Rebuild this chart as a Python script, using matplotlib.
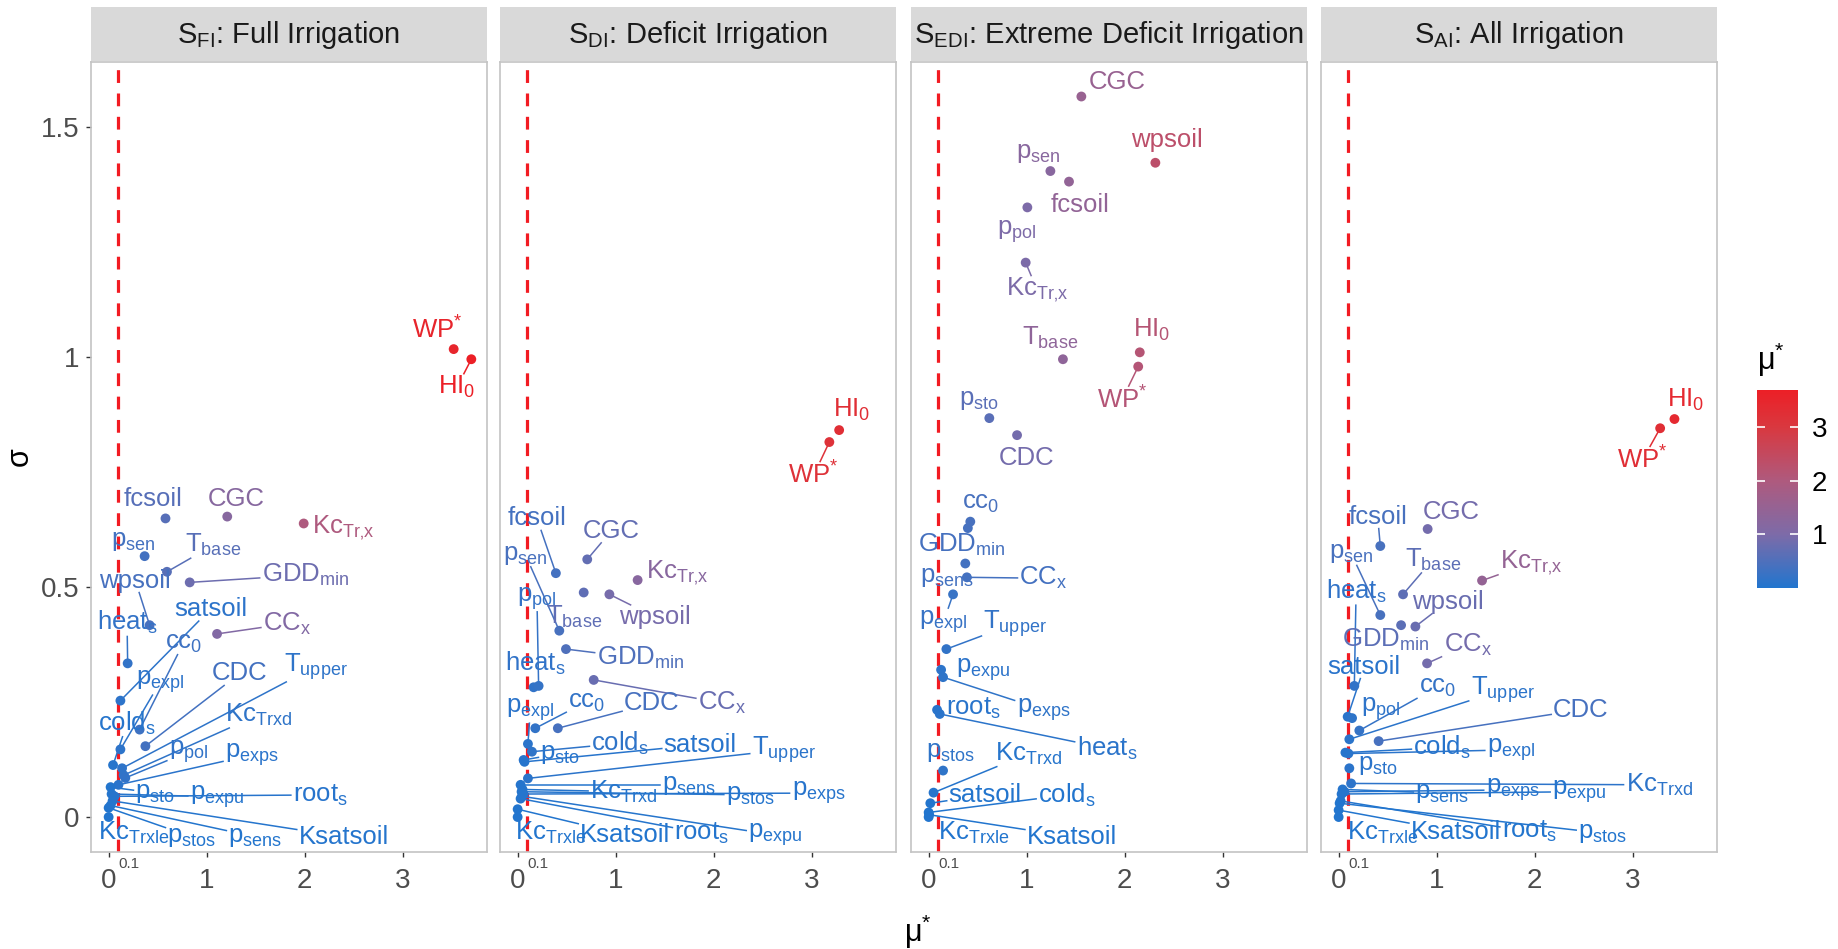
import numpy as np
import matplotlib
matplotlib.use("Agg")
import matplotlib.pyplot as plt
from matplotlib.colors import LinearSegmentedColormap, Normalize
from matplotlib.cm import ScalarMappable
import matplotlib.transforms as mtransforms

plt.rcParams['font.family'] = ['Liberation Sans', 'DejaVu Sans']
plt.rcParams['mathtext.fontset'] = 'custom'
plt.rcParams['mathtext.rm'] = 'Liberation Sans'
plt.rcParams['mathtext.it'] = 'Liberation Sans:italic'
plt.rcParams['mathtext.bf'] = 'Liberation Sans:bold'

# ---- data ----
scenarios = [r'$\mathrm{S}_{\mathrm{FI}}$: Full Irrigation',
             r'$\mathrm{S}_{\mathrm{DI}}$: Deficit Irrigation',
             r'$\mathrm{S}_{\mathrm{EDI}}$: Extreme Deficit Irrigation',
             r'$\mathrm{S}_{\mathrm{AI}}$: All Irrigation']

params = ['WP', 'HI0', 'fcsoil', 'CGC', 'KcTrx', 'psen', 'Tbase', 'GDDmin', 'wpsoil',
          'heats', 'satsoil', 'CCx', 'cc0', 'pexpl', 'CDC', 'Tupper', 'KcTrxd', 'ppol',
          'pexps', 'colds', 'psto', 'pexpu', 'roots', 'KcTrxle', 'pstos', 'psens', 'Ksatsoil']

param_labels = {
    'WP': r'$\mathrm{WP}^{*}$', 'HI0': r'$\mathrm{HI}_{0}$', 'fcsoil': 'fcsoil', 'CGC': 'CGC',
    'KcTrx': r'$\mathrm{Kc}_{\mathrm{Tr‚x}}$', 'psen': r'$\mathrm{p}_{\mathrm{sen}}$',
    'Tbase': r'$\mathrm{T}_{\mathrm{base}}$', 'GDDmin': r'$\mathrm{GDD}_{\mathrm{min}}$',
    'wpsoil': 'wpsoil', 'heats': r'$\mathrm{heat}_{\mathrm{s}}$', 'satsoil': 'satsoil',
    'CCx': r'$\mathrm{CC}_{\mathrm{x}}$', 'cc0': r'$\mathrm{cc}_{0}$',
    'pexpl': r'$\mathrm{p}_{\mathrm{expl}}$', 'CDC': 'CDC', 'Tupper': r'$\mathrm{T}_{\mathrm{upper}}$',
    'KcTrxd': r'$\mathrm{Kc}_{\mathrm{Trxd}}$', 'ppol': r'$\mathrm{p}_{\mathrm{pol}}$',
    'pexps': r'$\mathrm{p}_{\mathrm{exps}}$', 'colds': r'$\mathrm{cold}_{\mathrm{s}}$',
    'psto': r'$\mathrm{p}_{\mathrm{sto}}$', 'pexpu': r'$\mathrm{p}_{\mathrm{expu}}$',
    'roots': r'$\mathrm{root}_{\mathrm{s}}$', 'KcTrxle': r'$\mathrm{Kc}_{\mathrm{Trxle}}$',
    'pstos': r'$\mathrm{p}_{\mathrm{stos}}$', 'psens': r'$\mathrm{p}_{\mathrm{sens}}$',
    'Ksatsoil': 'Ksatsoil'}

# mu* and sigma per scenario (same order as params)
fi_mu = [3.52, 3.70, 0.58, 1.21, 1.99, 0.367, 0.595, 0.827, 0.418, 0.194, 0.12, 1.106, 0.316,
         0.12, 0.375, 0.137, 0.153, 0.17, 0.10, 0.045, 0.02, 0.03, 0.06, 0.0, 0.0, 0.02, 0.04]
fi_sigma = [1.017, 0.995, 0.649, 0.653, 0.638, 0.567, 0.533, 0.510, 0.417, 0.334, 0.253, 0.398,
            0.19, 0.147, 0.154, 0.106, 0.091, 0.085, 0.07, 0.113, 0.065, 0.05, 0.045, 0.0, 0.02,
            0.025, 0.035]

di_mu = [3.18, 3.28, 0.39, 0.71, 1.224, 0.425, 0.674, 0.493, 0.936, 0.163, 0.07, 0.776, 0.18,
         0.105, 0.41, 0.105, 0.05, 0.214, 0.06, 0.146, 0.061, 0.045, 0.03, 0.0, 0.04, 0.03, 0.0]
di_sigma = [0.815, 0.841, 0.53, 0.56, 0.515, 0.405, 0.488, 0.365, 0.484, 0.282, 0.12, 0.298,
            0.193, 0.159, 0.193, 0.084, 0.06, 0.285, 0.05, 0.142, 0.124, 0.045, 0.04, 0.0, 0.055,
            0.07, 0.017]

edi_mu = [2.138, 2.154, 1.432, 1.558, 0.99, 1.242, 1.37, 0.40, 2.313, 0.113, 0.017, 0.39, 0.425,
          0.249, 0.902, 0.181, 0.05, 1.007, 0.147, 0.0, 0.619, 0.127, 0.086, 0.0, 0.147, 0.374, 0.005]
edi_sigma = [0.979, 1.010, 1.381, 1.566, 1.205, 1.404, 0.995, 0.628, 1.422, 0.224, 0.03, 0.521,
             0.642, 0.484, 0.830, 0.365, 0.053, 1.325, 0.304, 0.01, 0.867, 0.320, 0.233, 0.0,
             0.101, 0.551, 0.005]

ai_mu = [3.28, 3.426, 0.425, 0.908, 1.463, 0.425, 0.657, 0.637, 0.783, 0.16, 0.092, 0.902, 0.211,
         0.10, 0.408, 0.109, 0.127, 0.137, 0.06, 0.069, 0.109, 0.03, 0.02, 0.0, 0.01, 0.04, 0.0]
ai_sigma = [0.845, 0.865, 0.589, 0.626, 0.514, 0.439, 0.484, 0.417, 0.414, 0.285, 0.218, 0.334,
            0.188, 0.138, 0.165, 0.169, 0.073, 0.215, 0.055, 0.14, 0.106, 0.05, 0.035, 0.0, 0.03,
            0.06, 0.015]

mu_threshold = 0.1

# ---- repelled label placement (data coords) ----
fi_lab = [(3.35, 1.059), (3.555, 0.935), (0.456, 0.691), (1.30, 0.691), (2.395, 0.628),
          (0.255, 0.601), (1.07, 0.591), (2.007, 0.526), (0.272, 0.514), (0.188, 0.422),
          (1.04, 0.452), (1.82, 0.42), (0.765, 0.379), (0.528, 0.294), (1.337, 0.312),
          (2.11, 0.327), (1.53, 0.222), (0.816, 0.142), (1.463, 0.135), (0.188, 0.204),
          (0.477, 0.052), (1.106, 0.044), (2.16, 0.048), (0.255, -0.035), (0.85, -0.043),
          (1.497, -0.043), (2.40, -0.043)]
di_lab = [(3.02, 0.743), (3.41, 0.885), (0.197, 0.649), (0.956, 0.622), (1.626, 0.53),
          (0.079, 0.57), (0.571, 0.435), (1.252, 0.345), (1.398, 0.435), (0.18, 0.334),
          (1.864, 0.157), (2.085, 0.248), (0.707, 0.251), (0.13, 0.233), (1.37, 0.247),
          (2.714, 0.146), (1.082, 0.055), (0.197, 0.475), (3.07, 0.052), (1.048, 0.16),
          (0.436, 0.138), (2.63, -0.039), (1.88, -0.035), (0.333, -0.035), (2.374, 0.048),
          (1.745, 0.07), (1.099, -0.039)]
edi_lab = [(1.973, 0.907), (2.28, 1.059), (1.548, 1.33), (1.922, 1.598), (1.106, 1.146),
           (1.122, 1.443), (1.242, 1.041), (0.34, 0.591), (2.433, 1.472), (1.82, 0.149),
           (0.578, 0.048), (1.173, 0.519), (0.53, 0.683), (0.153, 0.425), (1.004, 0.78),
           (0.885, 0.421), (1.02, 0.138), (0.902, 1.272), (1.173, 0.233), (1.412, 0.048),
           (0.517, 0.907), (0.561, 0.321), (0.459, 0.236), (0.459, -0.035), (0.221, 0.142),
           (0.188, 0.522), (1.463, -0.043)]
ai_lab = [(3.10, 0.776), (3.545, 0.907), (0.398, 0.653), (1.147, 0.664), (1.963, 0.552),
          (0.127, 0.573), (0.959, 0.559), (0.484, 0.385), (1.112, 0.468), (0.178, 0.49),
          (0.262, 0.327), (1.316, 0.374), (1.01, 0.283), (1.759, 0.146), (2.473, 0.233),
          (1.673, 0.276), (3.27, 0.07), (0.433, 0.236), (1.776, 0.059), (1.058, 0.151),
          (0.398, 0.113), (2.456, 0.055), (1.946, -0.032), (0.449, -0.035), (2.694, -0.035),
          (1.058, 0.052), (1.198, -0.032)]

panels = [(fi_mu, fi_sigma, fi_lab), (di_mu, di_sigma, di_lab),
          (edi_mu, edi_sigma, edi_lab), (ai_mu, ai_sigma, ai_lab)]

# colour scale low -> high mu*
cmap = LinearSegmentedColormap.from_list(
    'mu', [(0.0, '#2275CE'), (0.27, '#7D6BA8'), (0.54, '#AE5A7E'), (0.815, '#D9383F'), (1.0, '#EC1F26')])
mu_max = max(max(p[0]) for p in panels)
norm = Normalize(vmin=0, vmax=mu_max)

W, H = 1838, 949
fig = plt.figure(figsize=(W / 100, H / 100), dpi=100)

panel_left = [91, 500, 911, 1321]
panel_w = 396
p_top, p_bot = 62, 852
tick_col = '#4D4D4D'

seg_jobs = []
for i, (mu, sig, lab) in enumerate(panels):
    x0 = panel_left[i]
    ax = fig.add_axes([x0 / W, 1 - p_bot / H, panel_w / W, (p_bot - p_top) / H])
    strip = fig.add_axes([x0 / W, 1 - 61 / H, panel_w / W, 54 / H])
    strip.set_facecolor('#D9D9D9')
    strip.set_xticks([])
    strip.set_yticks([])
    for s in strip.spines.values():
        s.set_visible(False)
    strip.text(0.5, 0.48, scenarios[i], ha='center', va='center', fontsize=21, color='#1A1A1A',
               transform=strip.transAxes)

    ax.set_xlim(-0.18, 3.86)
    ax.set_ylim(-0.076, 1.641)
    for s in ax.spines.values():
        s.set_color('#C4C4C4')
        s.set_linewidth(1.2)

    ax.axvline(mu_threshold, color='#F21B22', lw=2.3, dashes=(4, 3.3), zorder=1)

    cols = cmap(norm(np.array(mu)))
    ax.scatter(mu, sig, c=cols, s=50, edgecolors='none', zorder=3)

    texts = []
    for k, p in enumerate(params):
        t = ax.text(lab[k][0], lab[k][1], param_labels[p], color=cols[k], fontsize=18.5,
                    ha='center', va='center', zorder=4)
        texts.append(t)
    seg_jobs.append((ax, texts, mu, sig, cols))

    ax.set_xticks([0, 1, 2, 3])
    ax.set_xticklabels(['0', '1', '2', '3'])
    ax.tick_params(axis='x', length=3.6, width=1, color='#333333', labelsize=20,
                   labelcolor=tick_col, pad=8)
    trans = mtransforms.blended_transform_factory(ax.transData, ax.transAxes)
    ax.text(mu_threshold, -0.006, '0.1', transform=trans, fontsize=11, color=tick_col,
            ha='left', va='top')
    ax.set_yticks([0, 0.5, 1, 1.5])
    if i == 0:
        ax.set_yticklabels(['0', '0.5', '1', '1.5'])
        ax.tick_params(axis='y', length=3.6, width=1, color='#333333', labelsize=20,
                       labelcolor=tick_col, pad=5)
    else:
        ax.tick_params(axis='y', left=False, labelleft=False)

fig.text(20 / W, 1 - 457 / H, 'σ', fontsize=22, rotation=90, ha='center', va='center')
fig.text(918 / W, 1 - 932 / H, 'μ$^{*}$', fontsize=22, ha='center', va='center')

# colour bar legend
cax = fig.add_axes([1757 / W, 1 - 588 / H, 41 / W, 198 / H])
cb = fig.colorbar(ScalarMappable(norm=norm, cmap=cmap), cax=cax)
cb.outline.set_visible(False)
cb.set_ticks([1, 2, 3])
cb.set_ticklabels(['1', '2', '3'])
cax.tick_params(direction='in', length=6, width=1.2, color='white', left=True, right=True,
                labelsize=20, labelcolor='black', pad=10)
fig.text(1757 / W, 1 - 360 / H, 'μ$^{*}$', fontsize=22, ha='left', va='center')

# repel-style segments from points to label boxes
fig.canvas.draw()
renderer = fig.canvas.get_renderer()
for ax, texts, mu, sig, cols in seg_jobs:
    inv = ax.transData.inverted()
    for t, x, y, c in zip(texts, mu, sig, cols):
        bb = t.get_window_extent(renderer)
        px, py = ax.transData.transform((x, y))
        cx, cy = (bb.x0 + bb.x1) / 2, (bb.y0 + bb.y1) / 2
        dx, dy = px - cx, py - cy
        hw, hh = bb.width / 2 + 2, bb.height / 2
        sx = hw / abs(dx) if dx else np.inf
        sy = hh / abs(dy) if dy else np.inf
        s = min(sx, sy)
        if s >= 1:
            continue
        ex, ey = cx + s * dx, cy + s * dy
        if np.hypot(px - ex, py - ey) < 14:
            continue
        (a0, b0), (a1, b1) = inv.transform([(px, py), (ex, ey)])
        ax.plot([a0, a1], [b0, b1], color=c, lw=1.1, zorder=2)

fig.savefig('out.png', dpi=100)
